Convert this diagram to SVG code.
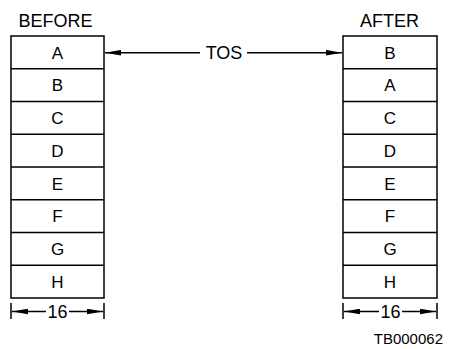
<svg xmlns="http://www.w3.org/2000/svg" width="454" height="349" viewBox="0 0 454 349">
<defs>
<marker id="ah" viewBox="0 0 16 6" refX="16" refY="3" markerWidth="16" markerHeight="6" markerUnits="userSpaceOnUse" orient="auto-start-reverse">
<path d="M0,0.2 L16,3 L0,5.8 Z" fill="#000"/>
</marker>
</defs>
<style>
text{font-family:"Liberation Sans",Arial,sans-serif;fill:#000}
.lbl{font-size:17px;text-anchor:middle}
.hdr{font-size:18px;text-anchor:middle}
.cell{fill:#fff;stroke:#000;stroke-width:1.5}
.ln{stroke:#000;stroke-width:1.5;fill:none}
</style>
<rect width="454" height="349" fill="#fff"/>
<text class="hdr" x="55.5" y="26.5">BEFORE</text>
<text class="hdr" x="389.5" y="26.5">AFTER</text>
<g id="before">
<rect class="cell" x="11" y="36" width="93" height="262"/>
<path class="ln" d="M11,68.75H104M11,101.5H104M11,134.25H104M11,167H104M11,199.75H104M11,232.5H104M11,265.25H104"/>
<text class="lbl" x="57.5" y="58.5">A</text>
<text class="lbl" x="57.5" y="91">B</text>
<text class="lbl" x="57.5" y="124">C</text>
<text class="lbl" x="57.5" y="156.5">D</text>
<text class="lbl" x="57.5" y="189.5">E</text>
<text class="lbl" x="57.5" y="222">F</text>
<text class="lbl" x="57.5" y="255">G</text>
<text class="lbl" x="57.5" y="288">H</text>
</g>
<g id="after">
<rect class="cell" x="343" y="36" width="94" height="262"/>
<path class="ln" d="M343,68.75H437M343,101.5H437M343,134.25H437M343,167H437M343,199.75H437M343,232.5H437M343,265.25H437"/>
<text class="lbl" x="390" y="58.5">B</text>
<text class="lbl" x="390" y="91">A</text>
<text class="lbl" x="390" y="124">C</text>
<text class="lbl" x="390" y="156.5">D</text>
<text class="lbl" x="390" y="189.5">E</text>
<text class="lbl" x="390" y="222">F</text>
<text class="lbl" x="390" y="255">G</text>
<text class="lbl" x="390" y="288">H</text>
</g>
<g id="connectors">
<path class="ln" d="M200,52.7H105" marker-end="url(#ah)"/>
<path class="ln" d="M247,52.7H342" marker-end="url(#ah)"/>
<text class="lbl" x="224" y="58.5" style="font-size:18px">TOS</text>
<path class="ln" d="M11,303V319M104,303V319M437,303V319M343,303V319"/>
<path class="ln" d="M46,311.5H12" marker-end="url(#ah)"/>
<path class="ln" d="M69,311.5H103" marker-end="url(#ah)"/>
<path class="ln" d="M379,311.5H344" marker-end="url(#ah)"/>
<path class="ln" d="M402,311.5H436" marker-end="url(#ah)"/>
<text class="lbl" x="57.5" y="318" style="font-size:18px">16</text>
<text class="lbl" x="390.5" y="318" style="font-size:18px">16</text>
</g>
<text x="443" y="344" style="font-size:15px;text-anchor:end">TB000062</text>
</svg>
